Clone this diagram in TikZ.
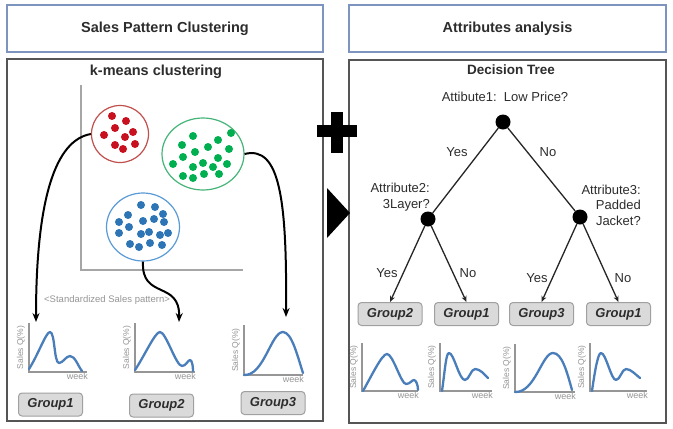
\documentclass[tikz,border=0pt]{standalone}
\usepackage{fontspec}
\setmainfont{Liberation Sans}
\usetikzlibrary{shapes.geometric,arrows.meta}
\definecolor{titleblue}{RGB}{125,148,190}
\definecolor{boxgray}{RGB}{85,85,85}
\definecolor{txt}{RGB}{45,45,45}
\definecolor{grpfill}{RGB}{218,218,218}
\definecolor{grpborder}{RGB}{160,160,160}
\definecolor{axgray}{RGB}{150,150,150}
\definecolor{labgray}{RGB}{150,150,150}
\definecolor{curveblue}{RGB}{74,126,187}
\definecolor{redline}{RGB}{192,80,77}
\definecolor{reddot}{RGB}{200,16,30}
\definecolor{greenline}{RGB}{70,180,120}
\definecolor{greendot}{RGB}{0,176,80}
\definecolor{blueline}{RGB}{91,155,213}
\definecolor{bluedot}{RGB}{46,117,182}
\newcommand{\miniaxes}[4]{%
  \draw[ax] (#1,#2-#4) -- (#1,#2) -- (#1+#3,#2);
  \node[ylab] at (#1-8,#2-#4/2) {Sales Q(\%)};
  \node[wk, anchor=north east] at (#1+#3+1,#2+1) {week};
}
\begin{document}
\begin{tikzpicture}[x=1pt,y=-1pt,
  titlebox/.style={draw=titleblue, line width=1.2pt, fill=white, inner sep=0pt,
     font=\bfseries\fontsize{14.5}{17}\selectfont, text=txt},
  mainbox/.style={draw=boxgray, line width=1.5pt, inner sep=0pt},
  headtext/.style={font=\bfseries\fontsize{14.5}{17}\selectfont, text=txt, inner sep=0pt},
  grp/.style={draw=grpborder, fill=grpfill, rounded corners=3.5pt, line width=1pt,
     minimum width=64pt, minimum height=23pt, inner sep=0pt,
     font=\bfseries\itshape\fontsize{13}{15}\selectfont, text=txt},
  cluster/.style={ellipse, inner sep=0pt, line width=1.2pt},
  conn/.style={line width=2pt, -{Stealth[length=9pt,width=7pt]}},
  treenode/.style={circle, fill=black, inner sep=0pt, minimum size=15pt},
  edge/.style={line width=1.3pt, draw=black!85},
  lbl/.style={font=\fontsize{13}{15.5}\selectfont, text=txt, inner sep=0pt},
  ax/.style={draw=axgray, line width=1.5pt},
  crv/.style={draw=curveblue, line width=2.3pt, line cap=round, line join=round},
  ylab/.style={rotate=90, font=\fontsize{8.5}{10}\selectfont, text=labgray, inner sep=0pt},
  wk/.style={font=\fontsize{9}{10}\selectfont, text=labgray, inner sep=0pt}
]
\useasboundingbox (0,0) rectangle (673,429);
\fill[white] (0,0) rectangle (673,429);

% frames
\node[titlebox, minimum width=316pt, minimum height=47pt] (t1) at (165,28.5) {Sales Pattern Clustering};
\node[titlebox, minimum width=317pt, minimum height=47pt] (t2) at (507.5,28.5) {Attributes analysis};
\node[mainbox, minimum width=316pt, minimum height=362pt] (m1) at (165,240) {};
\node[mainbox, minimum width=317pt, minimum height=363pt] (m2) at (507.5,241.5) {};

% plus and triangle
\fill[black] (317,125) rectangle (357,137);
\fill[black] (331,112) rectangle (343,153);
\fill[black] (327,188) -- (350,213) -- (327,238) -- cycle;

% ---------- left panel ----------
\node[headtext] (km) at (156,72) {k-means clustering};
\draw[draw=black!35, line width=1.2pt] (81,85) -- (81,270) -- (243,270);

\node[cluster, draw=redline, minimum width=57pt, minimum height=57pt] (red) at (120,134) {};
\node[cluster, draw=greenline, minimum width=82pt, minimum height=72pt] (green) at (203,154) {};
\node[cluster, draw=blueline, minimum width=73pt, minimum height=68pt] (blue) at (143,227) {};

\foreach \p in {(112,116),(126,121),(115,128),(104,135),(133,132),(125,137),(115,145),(123,149),(135,144)}
  \fill[reddot] \p circle (4);
\foreach \p in {(193,136),(231,133),(218,140),(182,145),(208,147),(195,152),(229,149),(183,157),(218,158),(173,164),(203,163),(193,167),(213,167),(227,164),(183,176),(193,178),(204,174),(219,174)}
  \fill[greendot] \p circle (4);
\foreach \p in {(141,205),(155,207),(128,215),(163,214),(119,222),(143,221),(154,219),(164,222),(129,227),(119,233),(141,234),(149,232),(160,235),(168,233),(130,244),(139,247),(150,243),(162,245)}
  \fill[bluedot] \p circle (4);

\node[font=\fontsize{9.5}{11}\selectfont, text=labgray, inner sep=0pt, anchor=west] (std) at (44,300) {<Standardized Sales pattern>};

% left mini charts
\miniaxes{29}{372}{58}{49}
\draw[crv] (29,369) .. controls (38,355) and (46,332) .. (50,332)
  .. controls (55,332) and (54,363) .. (59,363)
  .. controls (63,363) and (66,356) .. (70,356)
  .. controls (75,356) and (78,366) .. (82,371);
\miniaxes{135}{372}{60}{49}
\draw[crv] (135,370) .. controls (145,355) and (155,332) .. (160,332)
  .. controls (166,332) and (176,366) .. (182,366)
  .. controls (186,366) and (188,360) .. (190,360)
  .. controls (192,360) and (193,366) .. (193,371);
\miniaxes{244}{375}{59}{50}
\draw[crv] (244,375) .. controls (264,376) and (271,332) .. (283,332)
  .. controls (292,332) and (298,358) .. (303,373);

\coordinate (a1) at (36,322);
\coordinate (a2) at (179,322);
\coordinate (a3) at (286,317);
\draw[conn] (red.west) .. controls (55,140) and (36,200) .. (a1);
\draw[conn] (blue.south) .. controls (141,300) and (180,280) .. (a2);
\draw[conn] (green.east) .. controls (280,145) and (287,200) .. (a3);

\node[grp] (lg1) at (50.5,404.5) {Group1};
\node[grp] (lg2) at (161.5,405.5) {Group2};
\node[grp] (lg3) at (273,403) {Group3};

% ---------- right panel ----------
\node[headtext, font=\bfseries\fontsize{13.5}{16}\selectfont] (dt) at (511,70) {Decision Tree};
\node[lbl] (q1) at (505,97) {Attibute1:\ \ Low Price?};
\node[treenode] (root) at (503,122) {};
\node[treenode] (n2) at (428,219) {};
\node[treenode] (n3) at (580,217) {};
\node[lbl, align=right, anchor=east] (q2) at (430,197) {Attribute2:\\3Layer?};
\node[lbl, align=right, anchor=east] (q3) at (641,205) {Attribute3:\\Padded\\Jacket?};

\node[grp] (rg1) at (390,314) {Group2};
\node[grp] (rg2) at (466.5,314) {Group1};
\node[grp] (rg3) at (541.5,314) {Group3};
\node[grp] (rg4) at (618.5,314) {Group1};

\draw[edge] (root) -- (n2);
\draw[edge] (root) -- (n3);
\draw[edge, -{Stealth[length=6pt,width=5pt]}] (n2) -- (rg1.north);
\draw[edge, -{Stealth[length=6pt,width=5pt]}] (n2) -- (rg2.north);
\draw[edge, -{Stealth[length=6pt,width=5pt]}] (n3) -- (rg3.north);
\draw[edge, -{Stealth[length=6pt,width=5pt]}] (n3) -- (rg4.north);

\node[lbl] (y1) at (457,152) {Yes};
\node[lbl] (no1) at (548,152) {No};
\node[lbl] (y2) at (387,273) {Yes};
\node[lbl] (no2) at (468,273) {No};
\node[lbl] (y3) at (537,278) {Yes};
\node[lbl] (no3) at (623,278) {No};

% right mini charts
\miniaxes{362}{391}{56}{48}
\draw[crv] (363,391) .. controls (372,375) and (382,354) .. (387,354)
  .. controls (393,354) and (401,384) .. (406,384)
  .. controls (410,384) and (412,380) .. (414,380)
  .. controls (416,380) and (418,385) .. (418,390);
\miniaxes{440}{391}{52}{48}
\draw[crv] (442,391) .. controls (445,370) and (446,353) .. (449,353)
  .. controls (454,353) and (459,380) .. (465,380)
  .. controls (469,380) and (471,369) .. (475,369)
  .. controls (480,369) and (484,374) .. (488,378);
\miniaxes{515}{392}{60}{48}
\draw[crv] (515,392) .. controls (535,393) and (542,353) .. (553,353)
  .. controls (562,353) and (567,372) .. (572,390);
\miniaxes{590}{391}{57}{48}
\draw[crv] (592,391) .. controls (595,370) and (598,353) .. (601,353)
  .. controls (606,353) and (611,380) .. (616,380)
  .. controls (620,380) and (622,369) .. (626,369)
  .. controls (631,369) and (636,375) .. (640,378);
\end{tikzpicture}
\end{document}
